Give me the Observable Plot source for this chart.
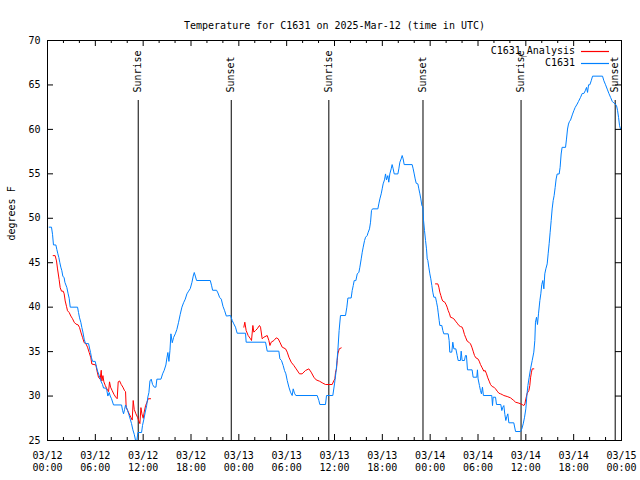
<!DOCTYPE html>
<html><head><meta charset="utf-8">
<script src="https://cdn.jsdelivr.net/npm/d3@7"></script>
<script src="https://cdn.jsdelivr.net/npm/@observablehq/plot@0.6"></script>
<style>body{margin:0;background:#fff}</style>
</head><body><div id="chart"></div>
<script>
const title = "Temperature for C1631 on 2025-Mar-12 (time in UTC)";
const yLabel = "degrees F";
const seriesNames = ["C1631_Analysis", "C1631"];
const seriesColors = ["#ff0000", "#0080ff"];
const startUTC = Date.UTC(2025, 2, 12);

// C1631 observations: hours since 03/12 00:00 UTC, temperature (F)
const blueHours = [0.21,0.50,0.63,0.75,1.05,1.17,1.30,1.42,1.55,1.67,1.80,1.92,2.09,2.18,2.43,2.59,2.72,2.85,3.77,3.89,4.02,4.18,4.31,4.44,4.60,4.77,5.15,5.27,5.40,5.52,5.65,5.98,6.11,6.28,6.49,6.69,6.90,7.03,7.32,7.45,7.57,7.74,7.87,8.03,8.28,9.29,9.41,9.54,9.67,9.79,9.92,10.04,10.21,10.38,10.54,10.71,10.88,11.05,11.21,11.34,11.80,11.92,12.09,12.26,12.43,12.59,12.72,12.85,13.01,13.18,13.39,13.60,13.72,14.23,14.44,14.64,14.85,14.98,15.10,15.23,15.36,15.48,15.65,15.82,16.03,16.23,16.44,16.65,16.86,17.07,17.28,17.49,17.70,17.91,18.12,18.28,18.41,18.54,18.70,20.42,20.59,20.71,21.21,21.38,21.59,21.80,22.01,22.22,22.43,22.96,23.17,23.37,23.58,23.79,24.84,24.92,27.35,27.56,29.02,29.15,29.35,29.56,29.73,29.90,30.07,30.28,30.48,30.69,30.82,30.98,31.15,33.83,34.04,34.16,34.87,35.00,35.79,36.00,36.21,36.42,36.58,36.75,37.38,37.55,37.68,38.09,38.22,38.35,38.47,38.68,38.85,39.06,39.18,39.35,39.48,39.60,39.77,39.90,40.10,40.23,40.39,40.52,40.64,40.77,41.44,41.56,41.69,41.86,41.98,42.10,42.27,42.40,42.52,42.69,42.81,42.94,43.11,43.23,43.36,43.49,43.95,44.07,44.20,44.36,44.49,44.61,44.74,45.74,45.87,46.00,46.12,46.25,46.46,46.58,46.71,46.83,46.96,47.08,47.17,47.29,47.42,47.54,47.63,47.71,47.83,47.96,48.08,48.21,48.33,48.46,48.67,48.80,48.92,49.00,49.13,49.21,49.46,49.59,49.71,50.26,50.38,50.46,50.71,50.84,50.97,51.22,51.39,51.51,51.80,51.89,52.01,52.30,52.43,52.55,52.68,53.26,53.39,53.85,53.93,54.01,54.18,54.31,54.43,54.56,54.68,55.73,55.82,55.90,56.20,56.32,56.86,56.99,57.11,57.24,57.37,57.49,57.62,57.74,57.87,58.49,58.71,59.34,59.50,59.67,59.84,60.00,60.13,60.26,60.42,60.59,60.80,61.00,61.13,61.21,61.34,61.46,61.59,61.76,61.88,62.00,62.13,62.26,62.38,62.51,62.68,62.80,62.93,63.05,63.18,63.30,63.43,63.55,63.68,63.80,63.93,64.18,64.30,64.43,64.55,64.98,65.10,65.23,65.35,65.48,65.61,65.86,66.02,66.19,66.44,66.61,66.86,67.07,67.28,67.45,67.61,67.74,67.87,68.03,68.20,68.37,69.62,69.79,70.00,70.21,70.42,70.63,70.84,71.05,71.22,71.38,71.51,71.63,71.76,71.88];
const blueTemps = [49.0,49.0,48.2,47.0,47.0,46.5,46.0,45.6,45.0,44.5,44.1,43.5,43.3,42.8,42.2,41.5,41.0,40.0,40.0,39.4,38.8,38.3,37.7,37.2,36.4,35.9,35.9,35.4,34.9,34.3,33.9,33.9,33.4,32.8,32.3,31.7,31.3,30.9,30.9,30.6,30.0,30.4,30.0,29.7,29.0,29.0,28.4,28.0,28.5,29.0,28.7,28.4,27.9,27.4,26.9,26.2,25.7,25.0,25.0,25.9,25.9,26.7,27.4,28.2,28.9,29.9,30.4,31.7,31.9,31.3,31.0,31.0,31.9,31.9,32.5,32.9,33.5,34.3,34.9,33.9,35.1,37.0,36.0,36.6,37.0,37.5,38.3,39.2,40.0,40.5,40.9,41.5,41.8,42.1,42.8,43.5,43.9,43.5,43.0,43.0,42.4,41.9,41.9,41.6,41.1,40.9,40.1,39.6,39.0,39.06,38.5,38.12,37.75,37.07,37.07,36.06,36.06,35.05,35.05,34.19,34.0,33.44,32.87,32.5,31.75,31.0,30.44,30.06,30.81,30.32,30.06,30.06,29.5,29.05,29.05,30.06,30.06,31.37,32.87,35.12,37.37,39.06,39.06,40.0,41.03,41.03,41.87,42.43,42.99,42.99,43.74,43.93,44.49,45.43,46.18,46.75,47.5,47.87,48.06,48.43,48.81,49.56,50.87,51.06,51.06,51.62,52.18,52.75,53.31,53.87,54.32,54.99,54.32,54.8,54.06,54.99,55.56,56.04,55.56,54.99,54.99,55.56,56.31,56.68,57.06,56.68,56.04,56.04,55.56,54.99,54.43,53.94,53.87,53.31,52.75,52.18,51.43,51.25,49.75,48.62,47.5,46.56,45.43,45.25,44.5,43.75,43.19,42.44,41.69,41.12,41.12,40.56,40.0,39.44,38.5,37.94,37.94,37.37,37.0,37.0,36.25,34.94,34.94,36.06,35.31,35.31,34.56,34.0,34.0,35.05,34.0,34.0,34.56,34.56,32.95,32.95,32.12,32.12,32.95,31.94,31.19,30.62,30.25,31.0,30.06,30.06,28.93,29.87,29.87,29.05,29.05,28.37,28.74,28.93,27.92,27.25,27.7,28.0,26.99,26.99,26.01,26.01,26.31,26.87,27.62,28.56,30.06,31.19,32.12,33.06,34.0,34.94,36.25,38.31,38.87,38.05,39.25,40.75,41.5,42.55,43.0,42.06,43.75,44.31,44.87,46.0,47.19,48.43,49.74,51.05,51.99,52.55,53.48,54.42,54.98,54.98,55.73,57.23,57.98,57.98,58.91,60.04,60.6,60.9,61.05,61.72,62.1,62.47,62.85,63.15,63.6,64.04,64.04,64.34,64.72,64.16,65.02,65.02,65.47,65.99,65.99,65.47,65.02,64.53,64.04,63.6,63.15,62.96,62.85,62.66,62.1,61.35,60.41,60.04];

// C1631_Analysis: three runs separated by gaps (null)
const redHours = [0.71,0.96,1.13,1.26,1.46,1.59,1.76,1.97,2.09,2.22,2.38,2.51,2.72,2.93,3.14,3.35,3.56,3.85,4.02,4.18,4.39,4.60,4.81,5.02,5.23,5.44,5.56,6.07,6.19,6.40,6.61,6.74,6.82,6.95,7.07,7.24,7.45,7.66,7.78,7.91,8.12,8.33,8.54,8.74,8.87,9.04,9.25,9.46,9.67,9.79,9.87,10.04,10.25,10.46,10.63,10.75,10.88,11.09,11.30,11.46,11.59,11.72,11.84,12.01,12.13,12.30,12.47,12.64,12.93,
  18.0,
  24.63,24.75,24.92,25.17,25.46,25.59,25.76,25.88,26.09,26.30,26.59,26.72,26.93,27.14,27.56,27.77,27.90,28.06,28.40,28.69,28.94,29.15,29.44,29.86,30.07,30.28,30.57,30.90,31.19,31.61,31.94,32.36,32.78,33.07,33.41,33.70,34.12,34.54,34.87,35.71,35.92,36.05,36.13,36.25,36.34,36.42,36.59,36.84,
  42.0,
  48.67,48.96,49.09,49.21,49.34,49.46,49.59,49.84,50.01,50.13,50.26,50.43,50.55,50.76,50.97,51.18,51.39,51.60,51.80,52.01,52.14,52.30,52.47,52.64,52.85,53.06,53.23,53.39,53.56,53.73,53.98,54.15,54.31,54.52,54.73,54.90,55.07,55.23,55.40,55.57,55.78,55.99,56.20,56.41,56.62,56.83,57.03,57.24,57.66,58.08,58.49,58.71,59.13,59.54,59.75,59.88,60.00,60.17,60.38,60.50,60.59,60.71,60.80,61.00];
const redTemps = [45.8,45.8,45.2,44.3,43.1,42.2,41.8,41.8,41.5,40.7,40.1,39.6,39.4,39.0,38.7,38.3,38.1,38.0,37.7,37.2,36.6,36.0,35.9,35.5,34.9,34.3,33.6,33.5,32.9,32.1,31.9,32.9,31.7,32.3,31.6,31.2,30.8,30.5,31.6,31.0,30.6,30.2,29.9,29.7,31.6,31.7,31.3,31.0,30.6,30.5,28.7,28.4,28.0,27.6,27.3,29.5,28.5,28.0,27.6,27.2,26.9,28.7,28.0,27.5,28.2,28.9,29.3,29.7,29.7,
  null,
  37.75,38.31,37.37,36.81,36.44,36.25,37.94,37.19,37.37,37.56,37.94,37.75,36.44,36.62,36.81,36.25,35.69,36.06,36.25,36.55,36.44,36.06,35.5,35.31,34.94,34.37,33.81,33.44,33.06,32.5,32.5,32.87,33.06,32.69,32.12,31.82,31.67,31.45,31.3,31.3,31.75,31.94,32.69,33.06,34.0,34.75,35.31,35.42,
  null,
  42.62,42.62,42.25,41.69,41.31,40.93,40.68,40.56,40.26,40.0,39.62,39.25,38.87,38.8,38.69,38.43,38.2,37.94,37.82,37.75,37.45,36.93,36.55,36.18,36.06,35.87,35.5,35.05,34.56,34.3,34.19,33.93,33.55,33.18,32.8,32.87,32.5,32.05,31.68,31.3,31.07,31.0,30.81,30.55,30.32,30.25,30.17,30.06,29.95,29.8,29.5,29.31,29.2,29.05,28.93,29.12,29.68,30.32,30.62,31.19,32.05,32.69,33.06,33.06];

const eventHours = [11.38, 23.05, 35.29, 47.10, 59.40, 71.21];
const eventLabels = ["Sunrise", "Sunset", "Sunrise", "Sunset", "Sunrise", "Sunset"];
const xMajorHours = [0, 6, 12, 18, 24, 30, 36, 42, 48, 54, 60, 66, 72];
const xMinorHours = [2, 4, 8, 10, 14, 16, 20, 22, 26, 28, 32, 34, 38, 40, 44, 46, 50, 52, 56, 58, 62, 64, 68, 70];
const yTicks = [25, 30, 35, 40, 45, 50, 55, 60, 65, 70];

const toDate = h => new Date(startUTC + h * 3600000);
const blue = blueHours.map((h, i) => ({date: toDate(h), temp: blueTemps[i]}));
const red = redHours.map((h, i) => ({date: toDate(h), temp: redTemps[i]}));
const events = eventHours.map((h, i) => ({date: toDate(h), label: eventLabels[i]}));
const fmt = d3.utcFormat("%m/%d\n%H:%M");
const FONT = "'DejaVu Sans Mono', monospace";

const chart = Plot.plot({
  width: 640, height: 480,
  marginLeft: 47, marginRight: 19, marginTop: 40, marginBottom: 40,
  style: {fontFamily: FONT, fontSize: "10px", background: "#fff", color: "#000", overflow: "visible"},
  x: {type: "utc", domain: [toDate(0), toDate(72)], axis: null},
  y: {domain: [25, 70], axis: null},
  marks: [
    Plot.ruleX(events, {x: "date", insetTop: 60, stroke: "#000", strokeWidth: 1}),
    Plot.text(events, {x: "date", text: "label", frameAnchor: "top", dy: 52, rotate: -90, textAnchor: "start", lineAnchor: "middle", fill: "#000"}),
    Plot.line(red, {x: "date", y: "temp", stroke: seriesColors[0], strokeWidth: 1}),
    Plot.line(blue, {x: "date", y: "temp", stroke: seriesColors[1], strokeWidth: 1}),
    Plot.ruleX(xMajorHours.map(toDate), {x: d => d, insetTop: 394, stroke: "#000"}),
    Plot.ruleX(xMajorHours.map(toDate), {x: d => d, insetBottom: 394, stroke: "#000"}),
    Plot.ruleX(xMinorHours.map(toDate), {x: d => d, insetTop: 397, stroke: "#000"}),
    Plot.ruleX(xMinorHours.map(toDate), {x: d => d, insetBottom: 397, stroke: "#000"}),
    Plot.ruleY(yTicks, {y: d => d, insetRight: 568, stroke: "#000"}),
    Plot.ruleY(yTicks, {y: d => d, insetLeft: 568, stroke: "#000"}),
    Plot.frame({stroke: "#000"}),
    Plot.text(yTicks, {y: d => d, text: d => String(d), frameAnchor: "left", dx: -7, textAnchor: "end", fill: "#000"}),
    Plot.text(xMajorHours.map(toDate), {x: d => d, text: d => fmt(d), frameAnchor: "bottom", dy: 21, lineHeight: 1.2, lineAnchor: "middle", fill: "#000"}),
    Plot.text([yLabel], {text: d => d, frameAnchor: "left", dx: -36, rotate: -90, fill: "#000"}),
    Plot.text([title], {text: d => d, frameAnchor: "top", dy: -19, fill: "#000"})
  ]
});
document.getElementById("chart").appendChild(chart);

// legend (inside top-right of the frame)
const svg = d3.select(chart);
const lg = svg.append("g").attr("font-family", FONT).attr("font-size", 10);
seriesNames.forEach((name, i) => {
  const y = 51 + i * 12;
  lg.append("text").attr("x", 575).attr("y", y).attr("dy", "0.32em").attr("text-anchor", "end").attr("fill", "#000").text(name);
  lg.append("path").attr("d", `M581,${y + 0.5}H609`).attr("fill", "none")
    .attr("stroke", seriesColors[i]).style("stroke", seriesColors[i]).attr("stroke-width", 1.2);
});
</script>
</body></html>
